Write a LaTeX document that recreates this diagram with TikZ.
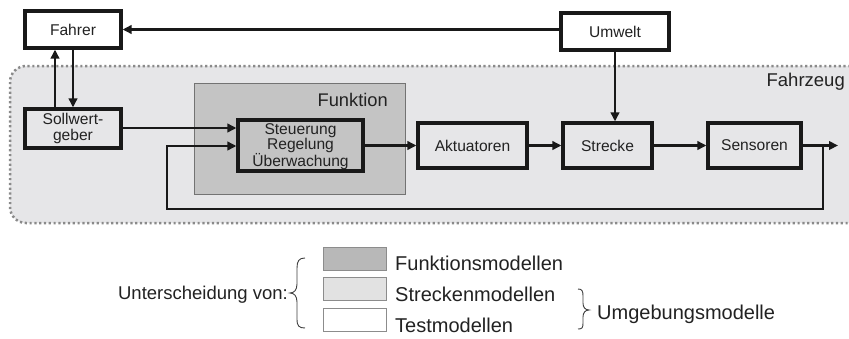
\documentclass[tikz,border=0pt]{standalone}
\usepackage{fontspec}
\setmainfont{Liberation Sans}
\usetikzlibrary{arrows.meta}
\definecolor{vehfill}{HTML}{E6E6E8}
\definecolor{funfill}{HTML}{C4C4C4}
\definecolor{dotcol}{HTML}{8A8A8A}
\definecolor{txt}{HTML}{222222}
\definecolor{legdark}{HTML}{B8B8B8}
\definecolor{leglight}{HTML}{E2E2E2}
\definecolor{legline}{HTML}{8C8C8C}
\tikzset{
  blk/.style={draw=black!90, line width=3.2pt, minimum width=#1, inner sep=0pt, text=txt,
     font=\fontsize{15.6}{17}\selectfont, align=center},
  blk/.default=90pt,
  arr/.style={line width=2.6pt, draw=black!90, -{Triangle[length=9pt,width=8.5pt]}},
  legbox/.style={draw=legline, line width=1pt, minimum width=63pt, minimum height=23pt, inner sep=0pt},
  legtxt/.style={font=\fontsize{20}{22}\selectfont, text=txt, inner sep=0pt},
  brace/.style={draw=black!75, line width=0.9pt}
}
\begin{document}
\begin{tikzpicture}[x=1pt,y=-1pt]
\useasboundingbox (0,0) rectangle (849,338);
\fill[white] (0,0) rectangle (849,338);
% vehicle region
\begin{scope}
\clip (0,0) rectangle (849,338);
\draw[fill=vehfill, draw=dotcol, line width=2.5pt, dash pattern=on 2.2pt off 2.6pt, rounded corners=16pt]
  (10,66) rectangle (870,223);
\end{scope}
\node[anchor=east, font=\fontsize{18.5}{20}\selectfont, text=txt, inner sep=0pt] (fzlabel) at (845,82) {Fahrzeug};
% Funktion region
\node[draw=black!55, line width=1pt, fill=funfill, minimum width=211pt, minimum height=111pt, inner sep=0pt] (funbg) at (299.5,138.5) {};
\node[anchor=east, font=\fontsize{18.3}{20}\selectfont, text=txt, inner sep=0pt] (funlabel) at (388,100) {Funktion};
% blocks
\node[blk=96pt, minimum height=37pt, fill=white] (fahrer) at (73,29.5) {Fahrer};
\node[blk=108pt, minimum height=37pt, fill=white] (umwelt) at (615,31.5) {Umwelt};
\node[blk=96pt, minimum height=39pt, fill=vehfill, font=\fontsize{15.6}{16}\selectfont] (soll) at (73,128.5) {Sollwert-\\geber};
\node[blk=125pt, minimum height=51pt, fill=funfill] (steu) at (300.5,145.5) {};
\node[text=txt, font=\fontsize{15.6}{14.6}\selectfont, align=center, inner sep=0pt] (steutxt) at (300.5,147) {Steuerung\\Regelung\\Überwachung};
\node[blk=109pt, minimum height=45pt, fill=vehfill] (akt) at (472.5,145.5) {Aktuatoren};
\node[blk=89pt, minimum height=45pt, fill=vehfill] (strecke) at (607.5,145.5) {Strecke};
\node[blk=93pt, minimum height=45pt, fill=vehfill] (sens) at (754.5,145.5) {Sensoren};
% connectors
\coordinate (fbsplit) at (823,145.5);
\coordinate (outend) at (838,145.5);
\coordinate (fbright) at (823,209);
\coordinate (fbleft) at (167,209);
\coordinate (fbin) at (167,146);
\draw[arr] (umwelt.west |- fahrer.east) -- (fahrer.east);
\draw[arr] (soll.north -| 55,0) -- (fahrer.south -| 55,0);
\draw[arr] (fahrer.south -| 73,0) -- (soll.north -| 73,0);
\draw[arr] (soll.east |- 0,128) -- (steu.west |- 0,128);
\draw[arr] (umwelt.south) -- (strecke.north -| umwelt.south);
\draw[arr] (steu.east) -- (akt.west);
\draw[arr] (akt.east) -- (strecke.west);
\draw[arr] (strecke.east) -- (sens.west);
\draw[arr] (sens.east) -- (outend);
\draw[arr, line join=miter] (fbsplit) -- (fbright) -- (fbleft) -- (fbin) -- (steu.west |- fbin);
% legend
\node[legbox, fill=legdark] (lb1) at (354.5,258.5) {};
\node[legbox, fill=leglight] (lb2) at (354.5,288.5) {};
\node[legbox, fill=white] (lb3) at (354.5,319.5) {};
\node[legtxt, anchor=base west] (lt1) at (395,270) {Funktionsmodellen};
\node[legtxt, anchor=base west] (lt2) at (395,301) {Streckenmodellen};
\node[legtxt, anchor=base west] (lt3) at (395,332) {Testmodellen};
\node[anchor=base east, font=\fontsize{18.5}{20}\selectfont, text=txt, inner sep=0pt] (unt) at (288,299) {Unterscheidung von:};
\node[anchor=base west, legtxt] (umg) at (597,319) {Umgebungsmodelle};
\draw[brace] (305,258) .. controls (299,258) and (297,261) .. (297,268) -- (297,284)
  .. controls (297,290) and (294,293) .. (290,293)
  .. controls (294,293) and (297,296) .. (297,302) -- (297,319)
  .. controls (297,326) and (299,328) .. (305,328);
\draw[brace] (578,289) .. controls (582,289) and (583,291) .. (583,296) -- (583,303)
  .. controls (583,307) and (585,310) .. (589,310)
  .. controls (585,310) and (583,313) .. (583,317) -- (583,323)
  .. controls (583,328) and (582,329) .. (578,329);
\end{tikzpicture}
\end{document}
